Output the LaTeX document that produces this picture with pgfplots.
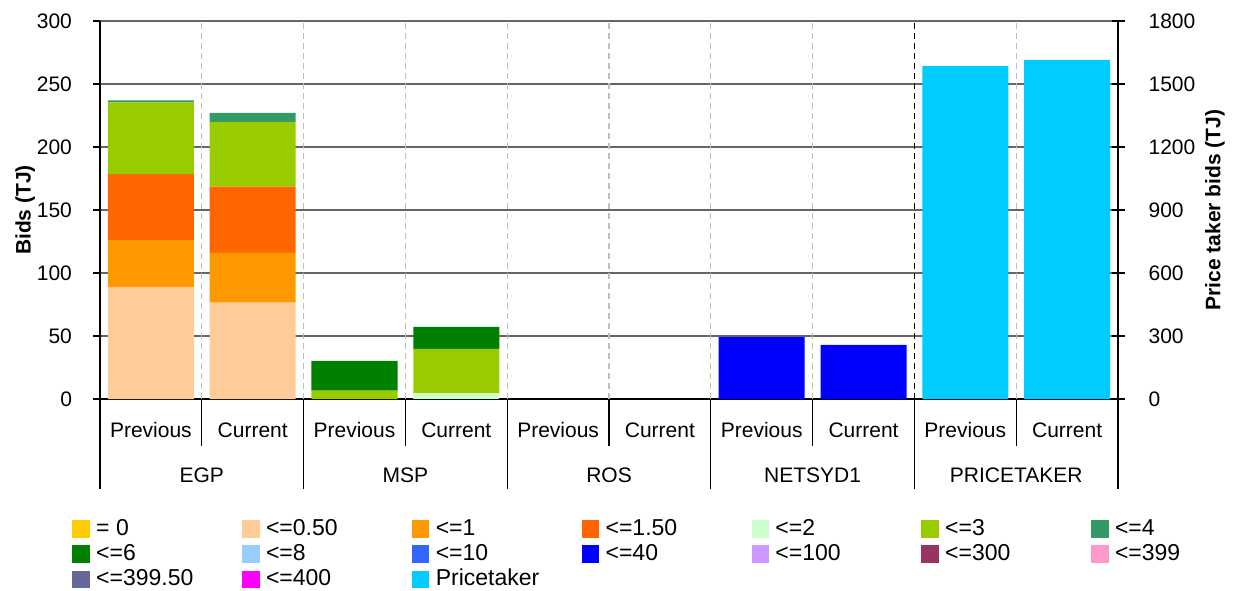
\documentclass[border=0pt]{standalone}
\usepackage{fontspec}
\setmainfont{Liberation Sans}
\usepackage{pgfplots}
\usepackage{pgfplotstable}
\pgfplotsset{compat=1.18}

\definecolor{c0}{HTML}{FFCC00}
\definecolor{c05}{HTML}{FFCC99}
\definecolor{c1}{HTML}{FF9900}
\definecolor{c15}{HTML}{FF6600}
\definecolor{c2}{HTML}{CCFFCC}
\definecolor{c3}{HTML}{99CC00}
\definecolor{c4}{HTML}{339966}
\definecolor{c6}{HTML}{008000}
\definecolor{c8}{HTML}{99CCFF}
\definecolor{c10}{HTML}{3366FF}
\definecolor{c40}{HTML}{0000FF}
\definecolor{c100}{HTML}{CC99FF}
\definecolor{c300}{HTML}{993366}
\definecolor{c399}{HTML}{FF99CC}
\definecolor{c3995}{HTML}{666699}
\definecolor{c400}{HTML}{FF00FF}
\definecolor{cpt}{HTML}{00CCFF}

\pgfplotstableread{
x s05 s1 s15 s2 s3 s4 s6 s40
0 89 37 52.5 0 57 1.6 0 0
1 76.5 39.5 52.5 0 51.5 7 0 0
2 0 0 0 0 6.6 0 23.6 0
3 0 0 0 4.8 35 0 17.4 0
4 0 0 0 0 0 0 0 0
5 0 0 0 0 0 0 0 0
6 0 0 0 0 0 0 0 49.2
7 0 0 0 0 0 0 0 42.9
}\bidtable

\pgfplotstableread{
x pt
8 1585
9 1615
}\pttable

\pgfplotsset{
  sq/.style={legend image code/.code={\fill[#1] (0pt,-4.1pt) rectangle (8.2pt,4.1pt);}},
  myaxis/.style={
    at={(50pt,95.5pt)}, anchor=south west,
    scale only axis, width=509pt, height=189pt,
    xmin=-0.5, xmax=9.5, ymin=0,
    enlarge x limits=false, enlarge y limits=false,
    /pgf/number format/assume math mode=true,
    /pgf/number format/1000 sep={},
    tick label style={font=\fontsize{10.5pt}{12pt}\selectfont},
    label style={font=\fontsize{10.5pt}{12pt}\selectfont\bfseries},
    axis line style={-, black, line width=0.6pt},
    bar width=0.845,
  },
}
\newcommand{\legtxt}[1]{\makebox[73pt][l]{#1}}

\begin{document}
\begin{tikzpicture}
\path[use as bounding box] (0,0) rectangle (617pt,295pt);
\begin{axis}[myaxis,
  ybar stacked,
  ymax=300,
  axis x line*=bottom, axis y line*=left,
  ytick={0,50,...,300},
  tick align=outside, major tick length=3.5pt,
  ytick style={black, line width=0.6pt},
  yticklabel style={xshift=-7pt},
  xtick={0,...,9},
  xticklabels={Previous,Current,Previous,Current,Previous,Current,Previous,Current,Previous,Current},
  xtick style={draw=none},
  xticklabel style={anchor=center, yshift=-12pt},
  ymajorgrids, major grid style={black!60, line width=0.6pt},
  ylabel={Bids (TJ)},
  ylabel style={at={(axis description cs:-0.0736,0.5)}, anchor=center},
  clip=false,
  legend columns=7,
  legend style={at={(-0.0271,-0.3098)}, anchor=north west, draw=none, fill=none,
    inner sep=0pt, outer sep=0pt, row sep=0pt,
    font=\fontsize{11.5pt}{13pt}\selectfont,
    /tikz/every odd column/.append style={column sep=3.3pt},
    /tikz/every even column/.append style={column sep=0pt},
    nodes={inner sep=0pt, minimum height=12.6pt, anchor=west}},
]
\addlegendimage{sq=c0}\addlegendentry{\legtxt{= 0}}
\addlegendimage{sq=c05}\addlegendentry{\legtxt{<=0.50}}
\addlegendimage{sq=c1}\addlegendentry{\legtxt{<=1}}
\addlegendimage{sq=c15}\addlegendentry{\legtxt{<=1.50}}
\addlegendimage{sq=c2}\addlegendentry{\legtxt{<=2}}
\addlegendimage{sq=c3}\addlegendentry{\legtxt{<=3}}
\addlegendimage{sq=c4}\addlegendentry{\legtxt{<=4}}
\addlegendimage{sq=c6}\addlegendentry{\legtxt{<=6}}
\addlegendimage{sq=c8}\addlegendentry{\legtxt{<=8}}
\addlegendimage{sq=c10}\addlegendentry{\legtxt{<=10}}
\addlegendimage{sq=c40}\addlegendentry{\legtxt{<=40}}
\addlegendimage{sq=c100}\addlegendentry{\legtxt{<=100}}
\addlegendimage{sq=c300}\addlegendentry{\legtxt{<=300}}
\addlegendimage{sq=c399}\addlegendentry{\legtxt{<=399}}
\addlegendimage{sq=c3995}\addlegendentry{\legtxt{<=399.50}}
\addlegendimage{sq=c400}\addlegendentry{\legtxt{<=400}}
\addlegendimage{sq=cpt}\addlegendentry{\legtxt{Pricetaker}}

\addplot[fill=c05, draw=none] table[x=x,y=s05]{\bidtable};
\addplot[fill=c1, draw=none] table[x=x,y=s1]{\bidtable};
\addplot[fill=c15, draw=none] table[x=x,y=s15]{\bidtable};
\addplot[fill=c2, draw=none] table[x=x,y=s2]{\bidtable};
\addplot[fill=c3, draw=none] table[x=x,y=s3]{\bidtable};
\addplot[fill=c4, draw=none] table[x=x,y=s4]{\bidtable};
\addplot[fill=c6, draw=none] table[x=x,y=s6]{\bidtable};
\addplot[fill=c40, draw=none] table[x=x,y=s40]{\bidtable};

% vertical separators inside the plot
\pgfplotsinvokeforeach{0.5,1.5,2.5,3.5,4.5,5.5,6.5,8.5}{
  \draw[black!25, line width=0.6pt, dash pattern=on 3pt off 2pt] (axis cs:#1,0) -- (axis cs:#1,300);
}
\draw[black, line width=0.6pt, dash pattern=on 3pt off 2pt] (axis cs:7.5,0) -- (axis cs:7.5,300);
% category table below
\pgfplotsinvokeforeach{-0.5,1.5,3.5,5.5,7.5,9.5}{
  \draw[black, line width=0.6pt] (axis cs:#1,0) -- ++(0pt,-45pt);
}
\pgfplotsinvokeforeach{0.5,2.5,4.5,6.5,8.5}{
  \draw[black, line width=0.6pt] (axis cs:#1,0) -- ++(0pt,-23.3pt);
}
\node[font=\fontsize{10.5pt}{12pt}\selectfont, anchor=center, yshift=-38pt] at (axis cs:0.5,0) {EGP};
\node[font=\fontsize{10.5pt}{12pt}\selectfont, anchor=center, yshift=-38pt] at (axis cs:2.5,0) {MSP};
\node[font=\fontsize{10.5pt}{12pt}\selectfont, anchor=center, yshift=-38pt] at (axis cs:4.5,0) {ROS};
\node[font=\fontsize{10.5pt}{12pt}\selectfont, anchor=center, yshift=-38pt] at (axis cs:6.5,0) {NETSYD1};
\node[font=\fontsize{10.5pt}{12pt}\selectfont, anchor=center, yshift=-38pt] at (axis cs:8.5,0) {PRICETAKER};
\end{axis}

\begin{axis}[myaxis,
  ybar, bar shift=0pt,
  ymax=1800,
  axis x line=none, axis y line*=right,
  ytick={0,300,...,1800},
  tick align=center, major tick length=6.5pt,
  ytick style={black, line width=0.6pt},
  yticklabel style={xshift=8.5pt},
  ylabel={Price taker bids (TJ)},
  ylabel style={at={(axis description cs:1.0953,0.5)}, anchor=center},
]
\addplot[fill=cpt, draw=none] table[x=x,y=pt]{\pttable};
\end{axis}
\end{tikzpicture}
\end{document}
